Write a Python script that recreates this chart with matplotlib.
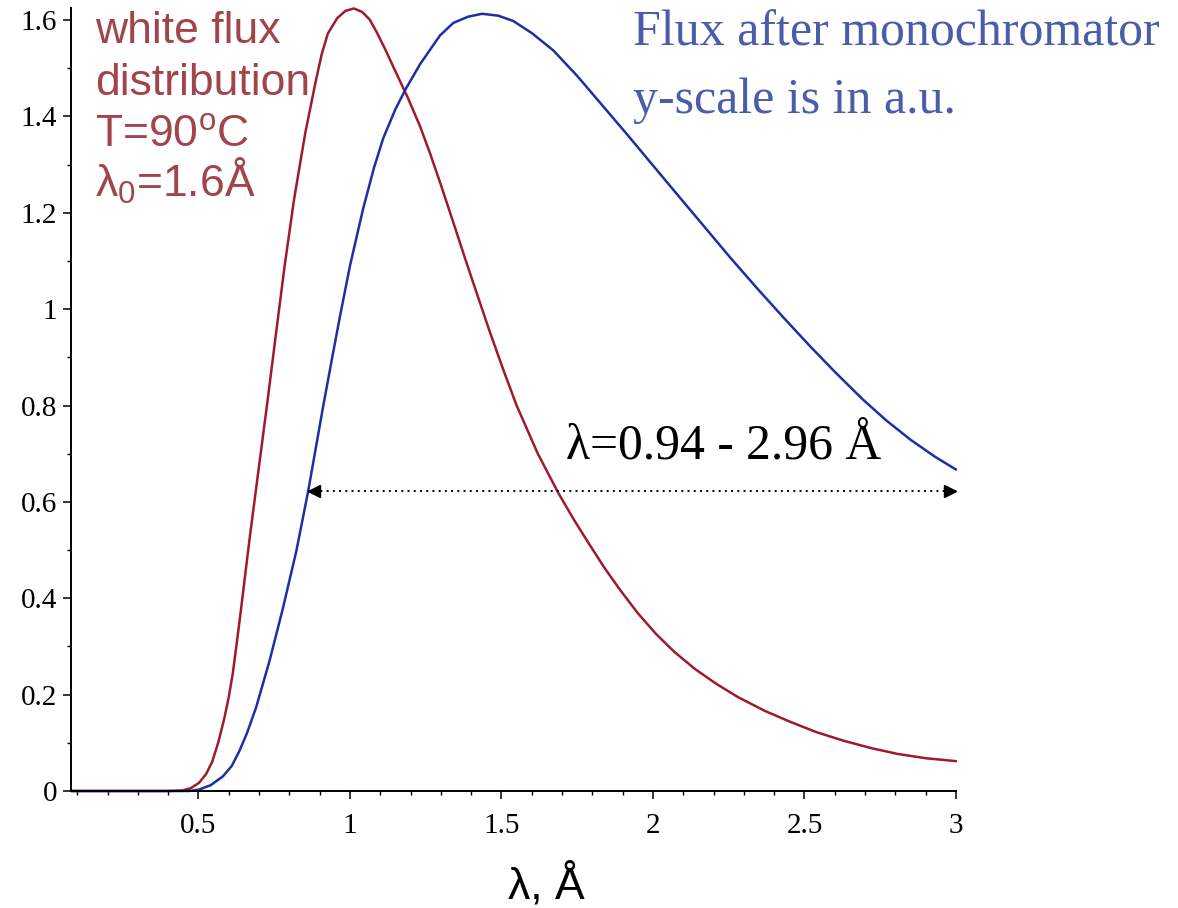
import matplotlib
matplotlib.use("Agg")
import matplotlib.pyplot as plt
from matplotlib.ticker import MultipleLocator, FixedLocator, FixedFormatter

# ---- data ----
white_x = [0.08, 0.40, 0.447, 0.475, 0.502, 0.525, 0.545, 0.565, 0.585, 0.600,
           0.613, 0.627, 0.640, 0.668, 0.699, 0.728, 0.756, 0.784, 0.815, 0.852,
           0.886, 0.907, 0.927, 0.958, 0.985, 1.013, 1.04, 1.065, 1.088, 1.115,
           1.143, 1.19, 1.231, 1.265, 1.30, 1.34, 1.38, 1.42, 1.462, 1.505,
           1.55, 1.62, 1.688, 1.74, 1.787, 1.84, 1.893, 1.95, 2.01, 2.07,
           2.139, 2.21, 2.28, 2.37, 2.455, 2.54, 2.631, 2.72, 2.807, 2.9, 3.0]
white_y = [0.0, 0.0, 0.001, 0.006, 0.017, 0.035, 0.060, 0.100, 0.150, 0.195,
           0.243, 0.310, 0.375, 0.520, 0.670, 0.810, 0.950, 1.088, 1.226, 1.364,
           1.470, 1.530, 1.572, 1.604, 1.619, 1.624, 1.617, 1.601, 1.575, 1.541,
           1.503, 1.440, 1.380, 1.322, 1.258, 1.182, 1.105, 1.030, 0.952, 0.876,
           0.800, 0.700, 0.618, 0.562, 0.515, 0.463, 0.416, 0.369, 0.326, 0.289,
           0.253, 0.222, 0.195, 0.166, 0.143, 0.122, 0.104, 0.089, 0.077, 0.068, 0.062]

mono_x = [0.08, 0.47, 0.502, 0.54, 0.58, 0.61, 0.635, 0.66, 0.69, 0.7345,
          0.779, 0.823, 0.862, 0.912, 0.94, 0.967, 1.0, 1.044, 1.08, 1.110,
          1.15, 1.185, 1.231, 1.297, 1.341, 1.39, 1.436, 1.49, 1.539, 1.60,
          1.671, 1.75, 1.83, 1.91, 1.995, 2.08, 2.167, 2.255, 2.344, 2.43,
          2.52, 2.60, 2.69, 2.77, 2.85, 2.93, 3.0]
mono_y = [0.0, 0.0, 0.003, 0.012, 0.030, 0.052, 0.083, 0.120, 0.173, 0.270,
          0.380, 0.498, 0.622, 0.800, 0.895, 0.985, 1.090, 1.210, 1.295, 1.355,
          1.415, 1.458, 1.508, 1.568, 1.594, 1.607, 1.613, 1.609, 1.598, 1.573,
          1.537, 1.484, 1.425, 1.366, 1.302, 1.238, 1.173, 1.107, 1.043, 0.983,
          0.922, 0.870, 0.814, 0.769, 0.729, 0.694, 0.667]

range_x = [0.862, 3.0]
range_y = 0.622

x_major = [0.5, 1, 1.5, 2, 2.5, 3]
x_labels = ["0.5", "1", "1.5", "2", "2.5", "3"]
y_major = [0, 0.2, 0.4, 0.6, 0.8, 1.0, 1.2, 1.4, 1.6]
y_labels = ["0", "0.2", "0.4", "0.6", "0.8", "1", "1.2", "1.4", "1.6"]

RED = "#9e1b2c"
BLUE = "#1c2fa3"
RED_TXT = "#a2444b"
BLUE_TXT = "#4a5caa"

plt.rcParams['mathtext.fontset'] = 'custom'
plt.rcParams['mathtext.rm'] = 'Liberation Sans'
plt.rcParams['mathtext.it'] = 'Liberation Sans'

W, H = 1178, 908
fig = plt.figure(figsize=(W / 100, H / 100), dpi=100)
ax = fig.add_axes([71.2 / W, 1 - 791 / H, (956 - 71.2) / W, (791 - 8) / H])

ax.plot(white_x, white_y, color=RED, lw=1.8, clip_on=False,
        solid_joinstyle='round', solid_capstyle='round')
ax.plot(mono_x, mono_y, color=BLUE, lw=1.8, clip_on=False,
        solid_joinstyle='round', solid_capstyle='round')

ax.set_xlim(0.08, 3.0)
ax.set_ylim(0, 1.625)
for s in ['top', 'right']:
    ax.spines[s].set_visible(False)
for s in ['left', 'bottom']:
    ax.spines[s].set_linewidth(1.4)

ax.xaxis.set_major_locator(FixedLocator(x_major))
ax.xaxis.set_major_formatter(FixedFormatter(x_labels))
ax.yaxis.set_major_locator(FixedLocator(y_major))
ax.yaxis.set_major_formatter(FixedFormatter(y_labels))
ax.xaxis.set_minor_locator(MultipleLocator(0.1))
ax.yaxis.set_minor_locator(MultipleLocator(0.1))
ax.tick_params(which='major', direction='out', length=6, width=1.1)
ax.tick_params(which='minor', direction='out', length=3, width=1.0)
ax.tick_params(axis='x', which='major', pad=10)
ax.tick_params(axis='y', which='major', pad=4)
for lab in ax.get_xticklabels() + ax.get_yticklabels():
    lab.set_fontfamily('Liberation Serif')
    lab.set_fontsize(21)

# dotted double arrow
ax.plot(range_x, [range_y, range_y], linestyle=(0, (1, 2.2)), color='black', lw=1.4)
ax.plot(range_x[0] + 0.02, range_y, marker='<', color='black', ms=9, clip_on=False)
ax.plot(range_x[1] - 0.02, range_y, marker='>', color='black', ms=9, clip_on=False)

def ftext(x, y, s, **kw):
    fig.text(x / W, 1 - y / H, s, va='baseline', **kw)

# red text block
rkw = dict(color=RED_TXT, fontsize=32, family='Liberation Sans')
ftext(95, 43, "white flux", **rkw)
ftext(95, 95, "distribution", **rkw)
ftext(95, 147, r"T=90$^{\mathrm{o}}$C", **rkw)
ftext(95, 197, r"λ$_{0}$=1.6Å", **rkw)

# blue text block
bkw = dict(color=BLUE_TXT, fontsize=36, family='Liberation Serif')
ftext(633, 46, "Flux after monochromator", **bkw)
ftext(633, 113, "y-scale is in a.u.", **bkw)

# range text
ftext(566, 459, "λ=0.94 - 2.96 Å", color='black', fontsize=35.7, family='Liberation Serif')

# x label
fig.text(546 / W, 1 - 899 / H, "λ, Å", ha='center', va='baseline',
         color='black', fontsize=32, family='Liberation Sans')

fig.savefig("out.png", dpi=100)
